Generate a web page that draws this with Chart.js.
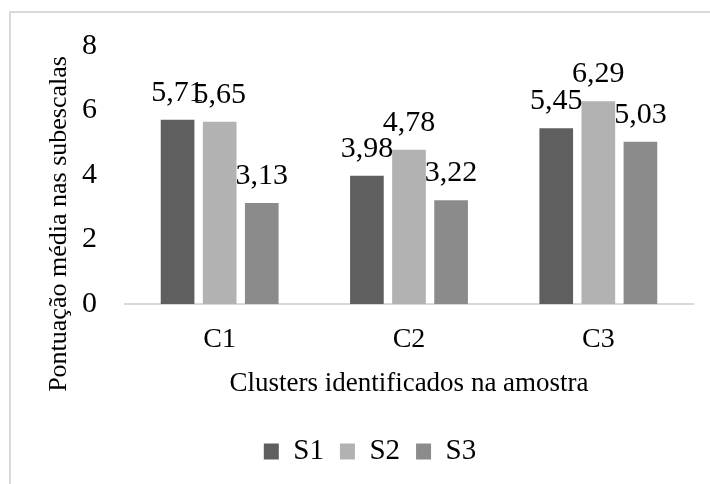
<!DOCTYPE html>
<html>
<head>
<meta charset="utf-8">
<script src="https://cdn.jsdelivr.net/npm/chart.js@4"></script>
<style>
  html, body { margin: 0; padding: 0; background: #fff; overflow: hidden; }
  #wrap { position: relative; width: 710px; height: 484px; }
  #frame { position: absolute; left: 9px; top: 11px; width: 740px; height: 520px; border: 2px solid #d9d9d9; }
  canvas { position: absolute; left: 0; top: 0; }
</style>
</head>
<body>
<div id="wrap">
  <div id="frame"></div>
  <canvas id="grafico" width="710" height="484"></canvas>
</div>
<script>
// Dados do gráfico
var clusters = ['C1', 'C2', 'C3'];
var s1 = [5.71, 3.98, 5.45];
var s2 = [5.65, 4.78, 6.29];
var s3 = [3.13, 3.22, 5.03];
var yTicks = [0, 2, 4, 6, 8];

var serif = '"Liberation Serif", "Times New Roman", serif';

// rótulos de valor por cima das barras (vírgula decimal)
var rotulosPlugin = {
  id: 'rotulos',
  afterDatasetsDraw: function(chart) {
    var ctx = chart.ctx;
    ctx.save();
    ctx.font = '30px ' + serif;
    ctx.fillStyle = '#000';
    ctx.textAlign = 'center';
    ctx.textBaseline = 'alphabetic';
    chart.data.datasets.forEach(function(ds, i) {
      chart.getDatasetMeta(i).data.forEach(function(bar, j) {
        ctx.fillText(ds.data[j].toFixed(2).replace('.', ','), bar.x, bar.y - 19);
      });
    });
    ctx.restore();
  }
};

// título do eixo y
var tituloYPlugin = {
  id: 'tituloY',
  afterDraw: function(chart) {
    var ctx = chart.ctx;
    ctx.save();
    ctx.translate(59, 224);
    ctx.rotate(-Math.PI / 2);
    ctx.font = '26px ' + serif;
    ctx.fillStyle = '#000';
    ctx.textAlign = 'center';
    ctx.textBaseline = 'middle';
    ctx.fillText('Pontuação média nas subescalas', 0, 0);
    ctx.restore();
  }
};

var ctx = document.getElementById('grafico').getContext('2d');
var grafico = new Chart(ctx, {
  type: 'bar',
  data: {
    labels: clusters,
    datasets: [
      { label: 'S1', data: s1, backgroundColor: '#5f5f5f' },
      { label: 'S2', data: s2, backgroundColor: '#b2b2b2' },
      { label: 'S3', data: s3, backgroundColor: '#8b8b8b' }
    ]
  },
  options: {
    responsive: false,
    animation: false,
    categoryPercentage: 0.667,
    barPercentage: 0.8,
    layout: { padding: { left: 47, right: 17, top: 42, bottom: 8 } },
    plugins: {
      tooltip: { enabled: false },
      legend: {
        position: 'bottom',
        labels: {
          boxWidth: 15,
          boxHeight: 16,
          padding: 16,
          color: '#000',
          font: { family: serif, size: 29 }
        }
      }
    },
    scales: {
      x: {
        grid: { display: false, drawTicks: false },
        border: { display: true, color: '#d9d9d9', width: 2 },
        ticks: { color: '#000', padding: 19, font: { family: serif, size: 28 } },
        title: {
          display: true,
          text: 'Clusters identificados na amostra',
          color: '#000',
          font: { family: serif, size: 27 },
          padding: { top: 0, bottom: 21 }
        },
        afterFit: function(scale) { scale.height = 117; }
      },
      y: {
        min: 0,
        max: 8,
        afterBuildTicks: function(scale) {
          scale.ticks = yTicks.map(function(v) { return { value: v }; });
        },
        grid: { display: false, drawTicks: false },
        border: { display: false },
        ticks: { color: '#000', padding: 28, font: { family: serif, size: 30 } },
        afterFit: function(scale) { scale.width = 78; }
      }
    }
  },
  plugins: [rotulosPlugin, tituloYPlugin]
});
</script>
</body>
</html>
